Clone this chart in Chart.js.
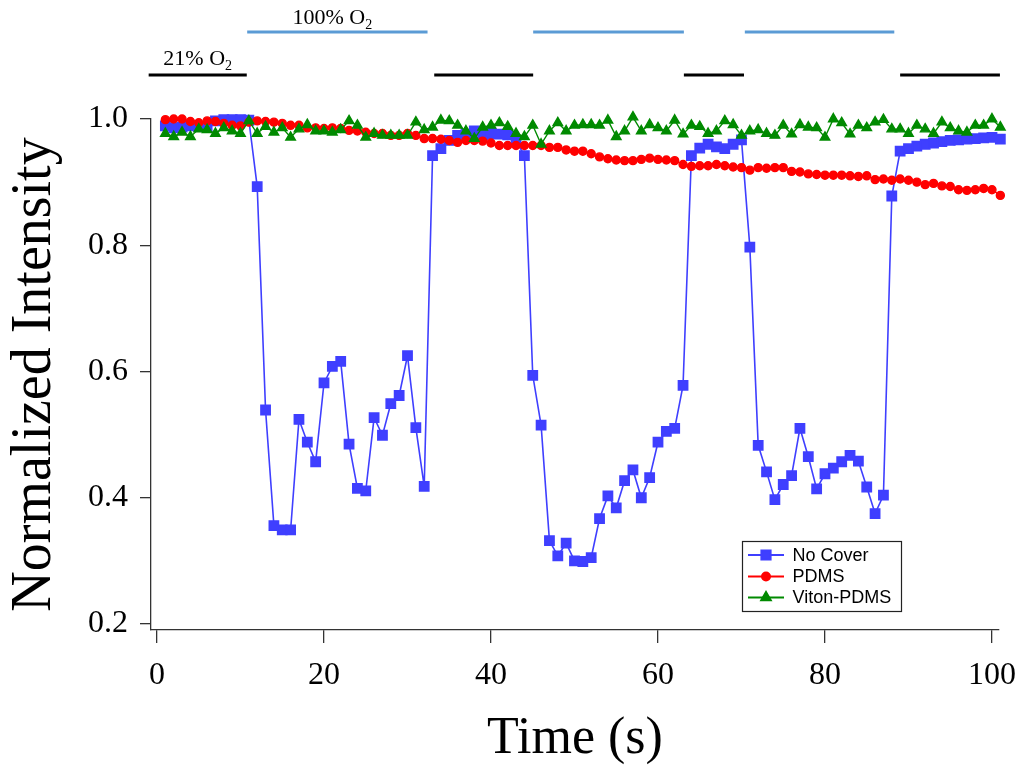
<!DOCTYPE html>
<html>
<head>
<meta charset="utf-8">
<script src="https://cdn.jsdelivr.net/npm/chart.js@4.4.1/dist/chart.umd.min.js"></script>
<style>
  html, body { margin: 0; padding: 0; background: #fff; }
  #wrap { width: 1024px; height: 772px; position: relative; }
</style>
</head>
<body>
<div id="wrap"><canvas id="o2Chart"></canvas></div>
<script>
// time (s), one sample per second
const time = [1, 2, 3, 4, 5, 6, 7, 8, 9, 10, 11, 12, 13, 14, 15, 16, 17, 18, 19, 20,
  21, 22, 23, 24, 25, 26, 27, 28, 29, 30, 31, 32, 33, 34, 35, 36, 37, 38, 39, 40,
  41, 42, 43, 44, 45, 46, 47, 48, 49, 50, 51, 52, 53, 54, 55, 56, 57, 58, 59, 60,
  61, 62, 63, 64, 65, 66, 67, 68, 69, 70, 71, 72, 73, 74, 75, 76, 77, 78, 79, 80,
  81, 82, 83, 84, 85, 86, 87, 88, 89, 90, 91, 92, 93, 94, 95, 96, 97, 98, 99, 100, 101];

const noCover = [0.989, 0.986, 0.987, 0.989, 0.988, 0.988, 0.997, 0.999, 0.999, 0.999,
  0.998, 0.893, 0.539, 0.356, 0.349, 0.349, 0.524, 0.488, 0.457, 0.582,
  0.608, 0.616, 0.485, 0.415, 0.411, 0.527, 0.499, 0.549, 0.562, 0.625,
  0.511, 0.418, 0.942, 0.953, 0.966, 0.974, 0.976, 0.981, 0.975, 0.977,
  0.976, 0.975, 0.966, 0.942, 0.594, 0.515, 0.332, 0.308, 0.328, 0.300,
  0.299, 0.305, 0.367, 0.403, 0.384, 0.427, 0.444, 0.400, 0.432, 0.488,
  0.505, 0.510, 0.578, 0.942, 0.954, 0.960, 0.956, 0.953, 0.960, 0.967,
  0.797, 0.483, 0.441, 0.397, 0.421, 0.435, 0.510, 0.465, 0.414, 0.438,
  0.447, 0.457, 0.467, 0.458, 0.417, 0.375, 0.404, 0.878, 0.949, 0.953,
  0.957, 0.960, 0.962, 0.964, 0.966, 0.967, 0.968, 0.969, 0.970, 0.971, 0.968];

const pdms = [0.999, 1.000, 1.000, 0.996, 0.994, 0.997, 0.996, 0.993, 0.990, 0.989,
  0.995, 0.997, 0.996, 0.995, 0.993, 0.990, 0.990, 0.986, 0.986, 0.985,
  0.986, 0.985, 0.982, 0.981, 0.979, 0.977, 0.977, 0.974, 0.974, 0.977,
  0.974, 0.969, 0.969, 0.968, 0.966, 0.963, 0.966, 0.966, 0.965, 0.962,
  0.958, 0.958, 0.958, 0.958, 0.958, 0.958, 0.955, 0.955, 0.951, 0.949,
  0.949, 0.945, 0.940, 0.937, 0.935, 0.934, 0.934, 0.936, 0.938, 0.936,
  0.935, 0.934, 0.928, 0.925, 0.926, 0.926, 0.928, 0.926, 0.924, 0.923,
  0.919, 0.923, 0.922, 0.923, 0.923, 0.917, 0.916, 0.913, 0.912, 0.911,
  0.911, 0.911, 0.910, 0.909, 0.910, 0.904, 0.905, 0.903, 0.905, 0.903,
  0.900, 0.896, 0.898, 0.894, 0.893, 0.888, 0.887, 0.888, 0.890, 0.888, 0.879];

const vitonPdms = [0.977, 0.972, 0.979, 0.972, 0.984, 0.983, 0.977, 0.986, 0.981, 0.977,
  0.997, 0.977, 0.988, 0.979, 0.986, 0.971, 0.984, 0.991, 0.981, 0.981,
  0.979, 0.983, 0.997, 0.990, 0.971, 0.977, 0.974, 0.974, 0.974, 0.974,
  0.995, 0.983, 0.987, 0.998, 0.997, 0.990, 0.981, 0.969, 0.987, 0.990,
  0.994, 0.988, 0.977, 0.972, 0.990, 0.960, 0.981, 0.994, 0.981, 0.990,
  0.991, 0.991, 0.990, 0.998, 0.972, 0.981, 1.003, 0.981, 0.991, 0.986,
  0.981, 0.998, 0.976, 0.990, 0.988, 0.977, 0.981, 0.997, 0.991, 0.974,
  0.981, 0.983, 0.977, 0.974, 0.990, 0.976, 0.991, 0.987, 0.986, 0.971,
  1.000, 0.994, 0.976, 0.990, 0.986, 0.995, 0.999, 0.984, 0.984, 0.977,
  0.990, 0.984, 0.977, 0.995, 0.986, 0.981, 0.979, 0.990, 0.990, 1.000, 0.987];

// gas periods (start, end in s)
const airPeriods = [[-1.0, 10.75], [33.2, 45.05], [63.1, 70.3], [89.0, 100.95]];
const oxygenPeriods = [[10.8, 32.4], [45.05, 63.1], [70.4, 88.3]];

const xTicks = [0, 20, 40, 60, 80, 100];
const yTicks = [0.2, 0.4, 0.6, 0.8, 1.0];

const serif = '"Liberation Serif", "DejaVu Serif", serif';

function points(values) {
  return time.map((t, i) => ({ x: t, y: values[i] }));
}

// O2 bars above the plot
const gasBars = {
  id: 'gasBars',
  afterDraw(chart) {
    const { ctx, chartArea, scales: { x } } = chart;
    const airY = chartArea.top - 44;
    const oxY = chartArea.top - 87;
    ctx.save();
    ctx.lineWidth = 3;
    ctx.strokeStyle = '#000';
    airPeriods.forEach(([a, b]) => {
      ctx.beginPath();
      ctx.moveTo(x.getPixelForValue(a), airY);
      ctx.lineTo(x.getPixelForValue(b), airY);
      ctx.stroke();
    });
    ctx.strokeStyle = '#5b9bd5';
    oxygenPeriods.forEach(([a, b]) => {
      ctx.beginPath();
      ctx.moveTo(x.getPixelForValue(a), oxY);
      ctx.lineTo(x.getPixelForValue(b), oxY);
      ctx.stroke();
    });

    const label = (text, cx, baseline) => {
      ctx.font = '22px ' + serif;
      const w1 = ctx.measureText(text).width;
      ctx.font = '14px ' + serif;
      const w2 = ctx.measureText('2').width;
      const left = cx - (w1 + w2) / 2;
      ctx.fillStyle = '#000';
      ctx.textBaseline = 'alphabetic';
      ctx.textAlign = 'left';
      ctx.font = '22px ' + serif;
      ctx.fillText(text, left, baseline);
      ctx.font = '14px ' + serif;
      ctx.fillText('2', left + w1, baseline + 5);
    };
    const a0 = airPeriods[0], o0 = oxygenPeriods[0];
    label('21% O', (x.getPixelForValue(a0[0]) + x.getPixelForValue(a0[1])) / 2, airY - 10);
    label('100% O', (x.getPixelForValue(o0[0]) + x.getPixelForValue(o0[1])) / 2 - 5, oxY - 8);
    ctx.restore();
  }
};

// boxed legend in lower right of the plot
const boxLegend = {
  id: 'boxLegend',
  afterDraw(chart) {
    const { ctx, chartArea } = chart;
    const bx = chartArea.right - 256.5, by = chartArea.bottom - 88.5;
    ctx.save();
    ctx.fillStyle = '#fff';
    ctx.fillRect(bx, by, 159, 70);
    ctx.strokeStyle = '#222';
    ctx.lineWidth = 1.2;
    ctx.strokeRect(bx, by, 159, 70);
    const rows = [13.5, 35, 56];
    [0, 1, 2].forEach((di, r) => {
      const ds = chart.data.datasets[di];
      const y = by + rows[r];
      ctx.strokeStyle = ds.borderColor;
      ctx.lineWidth = 2;
      ctx.beginPath();
      ctx.moveTo(bx + 5.5, y);
      ctx.lineTo(bx + 41.5, y);
      ctx.stroke();
      ctx.fillStyle = ds.pointBackgroundColor;
      ctx.strokeStyle = ds.pointBorderColor;
      Chart.helpers.drawPoint(ctx, {
        pointStyle: ds.pointStyle, radius: ds.pointRadius, rotation: 0, borderWidth: 1
      }, bx + 23.5, y);
      ctx.fillStyle = '#000';
      ctx.font = '18px "Liberation Sans", Arial, sans-serif';
      ctx.textAlign = 'left';
      ctx.textBaseline = 'middle';
      ctx.fillText(ds.label, bx + 50, y + 1);
    });
    ctx.restore();
  }
};

const ctx = document.getElementById('o2Chart').getContext('2d');
const o2Chart = new Chart(ctx, {
  type: 'line',
  data: {
    datasets: [{
      label: 'No Cover',
      data: points(noCover),
      borderColor: '#3f3fff',
      backgroundColor: '#3f3fff',
      pointBackgroundColor: '#3f3fff',
      pointBorderColor: '#3f3fff',
      pointStyle: 'rect',
      pointRadius: 6.5,
      borderWidth: 1.6,
      order: 2
    }, {
      label: 'PDMS',
      data: points(pdms),
      borderColor: '#ff0000',
      backgroundColor: '#ff0000',
      pointBackgroundColor: '#ff0000',
      pointBorderColor: '#ff0000',
      pointStyle: 'circle',
      pointRadius: 4,
      borderWidth: 1.4,
      order: 1
    }, {
      label: 'Viton-PDMS',
      data: points(vitonPdms),
      borderColor: '#008a00',
      backgroundColor: '#008a00',
      pointBackgroundColor: '#008a00',
      pointBorderColor: '#008a00',
      pointStyle: 'triangle',
      pointRadius: 5.5,
      borderWidth: 1.4,
      order: 0
    }]
  },
  options: {
    responsive: true,
    maintainAspectRatio: false,
    animation: false,
    clip: false,
    layout: { padding: { top: 119, right: 25, bottom: 0, left: 0 } },
    elements: { line: { tension: 0 }, point: { borderWidth: 1 } },
    plugins: {
      legend: { display: false },
      tooltip: { enabled: false }
    },
    scales: {
      x: {
        type: 'linear',
        min: -0.72,
        max: 100.84,
        afterBuildTicks: s => { s.ticks = xTicks.map(v => ({ value: v })); },
        afterFit: s => { s.height = 142; s.paddingLeft = 0; s.paddingRight = 0; },
        grid: { drawOnChartArea: false, tickLength: 13, color: '#333', lineWidth: 1.3 },
        border: { color: '#333', width: 1.3 },
        ticks: { color: '#000', font: { family: serif, size: 32 }, padding: 13, maxRotation: 0 },
        title: { display: true, text: 'Time (s)', color: '#000', font: { family: serif, size: 52 }, padding: { top: 0, bottom: 1 } }
      },
      y: {
        min: 0.1905,
        max: 1.0,
        afterBuildTicks: s => { s.ticks = yTicks.map(v => ({ value: v })); },
        afterFit: s => { s.width = 151; },
        grid: { drawOnChartArea: false, tickLength: 11, color: '#333', lineWidth: 1.3 },
        border: { color: '#333', width: 1.3 },
        ticks: { color: '#000', font: { family: serif, size: 32 }, padding: 12, callback: v => v.toFixed(1) },
        title: { display: true, text: 'Normalized Intensity', color: '#000', font: { family: serif, size: 56 }, padding: { top: 2, bottom: 0 } }
      }
    }
  },
  plugins: [gasBars, boxLegend]
});
</script>
</body>
</html>
